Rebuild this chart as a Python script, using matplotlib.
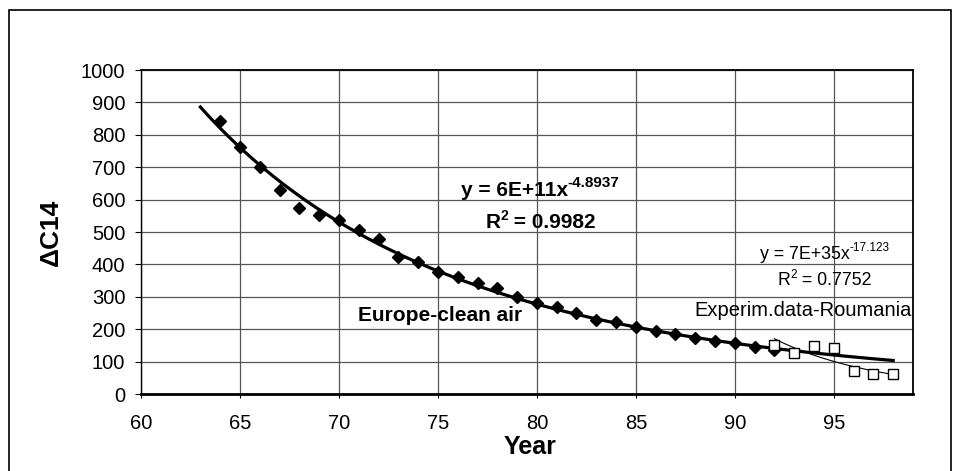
import numpy as np
import matplotlib
matplotlib.use("Agg")
import matplotlib.pyplot as plt
from matplotlib.patches import Rectangle
from matplotlib import transforms

# ---- data ----
europe_years = [64, 65, 66, 67, 68, 69, 70, 71, 72, 73, 74, 75, 76, 77, 78,
                79, 80, 81, 82, 83, 84, 85, 86, 87, 88, 89, 90, 91, 92]
europe_vals = [843, 761, 700, 630, 573, 552, 537, 506, 477, 424, 408, 377, 362,
               344, 326, 300, 282, 268, 249, 228, 221, 206, 195, 185, 174, 164,
               156, 144, 136]
rom_years = [92, 93, 94, 95, 96, 97, 98]
rom_vals = [150, 126, 147, 143, 72, 61, 61]
xticks = [60, 65, 70, 75, 80, 85, 90, 95]
yticks = [0, 100, 200, 300, 400, 500, 600, 700, 800, 900, 1000]

plt.rcParams['font.family'] = ['Liberation Sans', 'DejaVu Sans']

fig = plt.figure(figsize=(9.59, 4.71), dpi=100)
fig.patches.append(Rectangle((9/959, -0.1), (951-9)/959, 1.1 - 10/471,
                             transform=fig.transFigure, fill=False,
                             edgecolor='black', linewidth=1.2))
ax = fig.add_axes([141/959, 1-394/471, (913-141)/959, (394-70)/471])

# power-law trendlines (fit in log-log space)
def power_fit(xs, ys):
    b, a = np.polyfit(np.log(xs), np.log(ys), 1)
    return np.exp(a), b

a1, b1 = power_fit(europe_years, europe_vals)
xt1 = np.linspace(63, 98, 200)
ax.plot(xt1, a1 * xt1 ** b1, color='black', lw=2.3, zorder=3)

a2, b2 = power_fit(rom_years, rom_vals)
xt2 = np.linspace(92, 98, 100)
ax.plot(xt2, a2 * xt2 ** b2, color='black', lw=0.8, zorder=3)

ax.plot(europe_years, europe_vals, linestyle='none', marker='D', ms=6.5,
        color='black', zorder=4)
ax.plot(rom_years, rom_vals, linestyle='none', marker='s', ms=6.7,
        markerfacecolor='white', markeredgecolor='black', mew=1.0, zorder=5)

ax.set_xlim(60, 99)
ax.set_ylim(0, 1000)
ax.set_xticks(xticks)
ax.set_yticks(yticks)
ax.grid(True, color='#555555', lw=0.9)
ax.set_axisbelow(True)
ax.tick_params(axis='both', labelsize=14.5, width=0.8, direction='out')
ax.tick_params(axis='y', length=4.3, pad=7)
ax.tick_params(axis='x', length=3.2, pad=11)
for s in ax.spines.values():
    s.set_color('black')
    s.set_linewidth(1.3)
ax.spines['bottom'].set_linewidth(2)
ax.spines['left'].set_linewidth(1.0)

ax.set_xlabel('Year', fontsize=18, fontweight='bold')
ax.set_ylabel('ΔC14', fontsize=19, fontweight='bold')
ax.xaxis.set_label_coords((530-141)/772, (394-447)/324)
ax.yaxis.set_label_coords((51-141)/772, 0.5)
ax.xaxis.label.set_va('center')
ax.yaxis.label.set_va('center')

renderer = fig.canvas.get_renderer()

def sup_text(cx, cy, base, sup, size, supsize, weight, rise_px):
    t1 = ax.text(cx, cy, base, fontsize=size, fontweight=weight,
                 ha='left', va='baseline')
    t2 = ax.text(cx, cy, sup, fontsize=supsize, fontweight=weight,
                 ha='left', va='baseline')
    w1 = t1.get_window_extent(renderer).width
    w2 = t2.get_window_extent(renderer).width
    x0 = -(w1 + w2) / 2
    t1.set_transform(transforms.offset_copy(ax.transData, fig, x=x0, y=0,
                                            units='dots'))
    t2.set_transform(transforms.offset_copy(ax.transData, fig, x=x0 + w1,
                                            y=rise_px, units='dots'))

def r2_text(cx, cy, value, size, supsize, weight, rise_px):
    t1 = ax.text(cx, cy, 'R', fontsize=size, fontweight=weight,
                 ha='left', va='baseline')
    t2 = ax.text(cx, cy, '2', fontsize=supsize, fontweight=weight,
                 ha='left', va='baseline')
    t3 = ax.text(cx, cy, ' = ' + value, fontsize=size, fontweight=weight,
                 ha='left', va='baseline')
    w1 = t1.get_window_extent(renderer).width
    w2 = t2.get_window_extent(renderer).width
    w3 = t3.get_window_extent(renderer).width
    x0 = -(w1 + w2 + w3) / 2
    t1.set_transform(transforms.offset_copy(ax.transData, fig, x=x0, y=0,
                                            units='dots'))
    t2.set_transform(transforms.offset_copy(ax.transData, fig, x=x0 + w1,
                                            y=rise_px, units='dots'))
    t3.set_transform(transforms.offset_copy(ax.transData, fig,
                                            x=x0 + w1 + w2, y=0, units='dots'))

sup_text(80.16, 611, 'y = 6E+11x', '-4.8937', 15, 11, 'bold', 9)
r2_text(80.2, 512, '0.9982', 15, 10, 'bold', 8)
ax.text(79.25, 225, 'Europe-clean air', fontsize=15, fontweight='bold',
        ha='right', va='baseline')

sup_text(94.55, 417, 'y = 7E+35x', '-17.123', 12.8, 8.5, 'normal', 8)
r2_text(94.55, 336, '0.7752', 12.8, 8.5, 'normal', 7)
ax.text(98.95, 241, 'Experim.data-Roumania', fontsize=14.5, ha='right',
        va='baseline')

fig.savefig('out.png', dpi=100)
